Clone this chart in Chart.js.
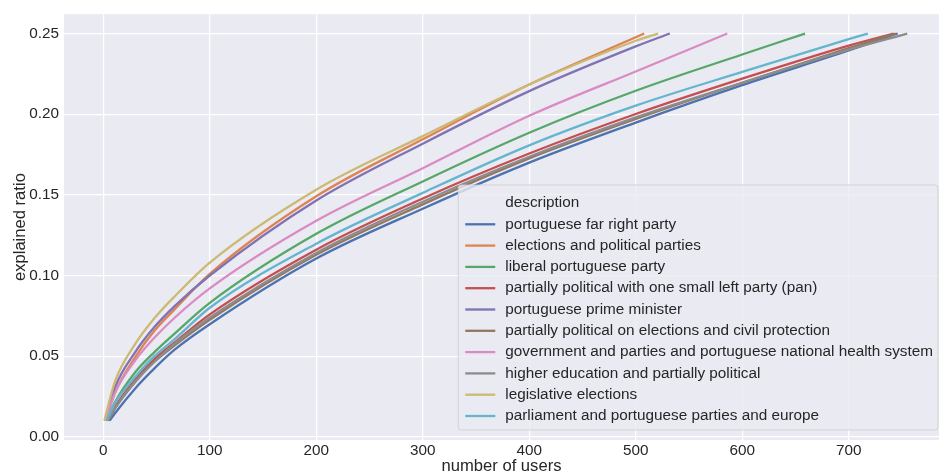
<!DOCTYPE html>
<html>
<head>
<meta charset="utf-8">
<script src="https://cdn.jsdelivr.net/npm/chart.js@4.4.1/dist/chart.umd.min.js"></script>
<style>
  html, body { margin: 0; padding: 0; background: #fff; }
  #wrap { width: 939px; height: 476px; }
</style>
</head>
<body>
<div id="wrap"><canvas id="chart"></canvas></div>
<script>
// values (number of users -> explained ratio)
const labels = [
    'portuguese far right party',
    'elections and political parties',
    'liberal portuguese party',
    'partially political with one small left party (pan)',
    'portuguese prime minister',
    'partially political on elections and civil protection',
    'government and parties and portuguese national health system',
    'higher education and partially political',
    'legislative elections',
    'parliament and portuguese parties and europe'
];
const colors = ['#4C72B0', '#DD8452', '#55A868', '#C44E52', '#8172B3',
                '#937860', '#DA8BC3', '#8C8C8C', '#CCB974', '#64B5CD'];

const farRightX = [6, 11, 30, 48, 67, 100, 200, 300, 400, 500, 600, 700, 746];
const farRightY = [0.01, 0.0146, 0.030, 0.0424, 0.054, 0.0698, 0.1105, 0.1414, 0.170, 0.1948, 0.218, 0.2395, 0.25];

const electionsX = [2, 11, 30, 48, 67, 100, 200, 300, 400, 508];
const electionsY = [0.01, 0.0273, 0.0494, 0.0657, 0.079, 0.101, 0.1491, 0.1844, 0.2184, 0.25];

const liberalX = [3, 11, 30, 48, 67, 100, 200, 300, 400, 500, 600, 659];
const liberalY = [0.01, 0.0215, 0.040, 0.0525, 0.064, 0.083, 0.1258, 0.1583, 0.1885, 0.2145, 0.237, 0.25];

const panX = [4, 11, 30, 48, 67, 100, 200, 300, 400, 500, 600, 700, 742];
const panY = [0.01, 0.0185, 0.0355, 0.0481, 0.0585, 0.0759, 0.116, 0.1477, 0.1756, 0.2001, 0.222, 0.2425, 0.25];

const primeMinisterX = [2, 11, 30, 48, 67, 100, 200, 300, 400, 500, 532];
const primeMinisterY = [0.01, 0.0306, 0.0525, 0.068, 0.081, 0.100, 0.1465, 0.1817, 0.2143, 0.242, 0.25];

const civilProtX = [5, 11, 30, 48, 67, 100, 200, 300, 400, 500, 600, 700, 744];
const civilProtY = [0.01, 0.0175, 0.034, 0.0465, 0.0567, 0.0726, 0.1128, 0.1441, 0.1726, 0.197, 0.2195, 0.241, 0.25];

const healthX = [2, 11, 30, 48, 67, 100, 200, 300, 400, 500, 586];
const healthY = [0.01, 0.0273, 0.0474, 0.0614, 0.0738, 0.092, 0.1339, 0.1665, 0.199, 0.2265, 0.25];

const higherEdX = [4, 11, 30, 48, 67, 100, 200, 300, 400, 500, 600, 700, 755];
const higherEdY = [0.01, 0.0177, 0.0342, 0.0465, 0.0577, 0.0739, 0.114, 0.1457, 0.1736, 0.198, 0.2195, 0.240, 0.25];

const legislativeX = [1, 11, 30, 48, 67, 100, 200, 300, 400, 500, 521];
const legislativeY = [0.01, 0.0344, 0.0576, 0.0735, 0.087, 0.108, 0.1532, 0.1864, 0.2184, 0.2455, 0.25];

const europeX = [3, 11, 30, 48, 67, 100, 200, 300, 400, 500, 600, 700, 718];
const europeY = [0.01, 0.021, 0.0372, 0.050, 0.0605, 0.080, 0.1197, 0.1512, 0.1807, 0.2053, 0.2262, 0.2465, 0.25];

const xTicks = [0, 100, 200, 300, 400, 500, 600, 700];
const yTicks = [0, 0.05, 0.10, 0.15, 0.20, 0.25];

const seriesX = [farRightX, electionsX, liberalX, panX, primeMinisterX,
                 civilProtX, healthX, higherEdX, legislativeX, europeX];
const seriesY = [farRightY, electionsY, liberalY, panY, primeMinisterY,
                 civilProtY, healthY, higherEdY, legislativeY, europeY];

const FONT = "'Liberation Sans', Arial, sans-serif";
const TXT = '#262626';
const LW = 2.3;
const FS = 15.3;

Chart.defaults.font.family = FONT;
Chart.defaults.color = TXT;

const datasets = labels.map((lab, i) => ({
    label: lab,
    data: seriesX[i].map((x, k) => ({x: x, y: seriesY[i][k]})),
    borderColor: colors[i],
    backgroundColor: colors[i],
    borderWidth: LW,
    pointRadius: 0,
    fill: false,
    cubicInterpolationMode: 'monotone',
    order: labels.length - i   // later series on top, like matplotlib
}));

// axes face colour
const facePlugin = {
    id: 'face',
    beforeDraw(chart) {
        const a = chart.chartArea;
        const ctx = chart.ctx;
        ctx.save();
        ctx.fillStyle = '#EAEAF2';
        ctx.fillRect(a.left, a.top, a.right - a.left, a.bottom - a.top);
        ctx.restore();
    }
};

// matplotlib-like legend box, bottom right inside the axes
const legendPlugin = {
    id: 'mplLegend',
    afterDraw(chart) {
        const ctx = chart.ctx;
        const a = chart.chartArea;
        ctx.save();
        ctx.font = FS + 'px ' + FONT;
        let maxW = ctx.measureText('description').width;
        labels.forEach(l => { maxW = Math.max(maxW, ctx.measureText(l).width); });
        const rowH = 21.3;
        const boxW = 7 + 30 + 10 + maxW + 5;
        const boxH = 18 + rowH * labels.length + 14;
        const right = a.right - 1;
        const bottom = a.bottom - 10;
        const left = right - boxW;
        const top = bottom - boxH;

        ctx.beginPath();
        ctx.roundRect(left, top, boxW, boxH, 3);
        ctx.fillStyle = 'rgba(234,234,242,0.8)';
        ctx.fill();
        ctx.strokeStyle = 'rgba(204,204,204,0.8)';
        ctx.lineWidth = 1;
        ctx.stroke();

        ctx.fillStyle = TXT;
        ctx.textBaseline = 'middle';
        ctx.textAlign = 'left';
        const tx = left + 47;
        ctx.fillText('description', tx, top + 18);
        labels.forEach((l, i) => {
            const y = top + 18 + rowH * (i + 1);
            ctx.beginPath();
            ctx.moveTo(left + 7, y);
            ctx.lineTo(left + 37, y);
            ctx.strokeStyle = colors[i];
            ctx.lineWidth = LW;
            ctx.stroke();
            ctx.fillStyle = TXT;
            ctx.fillText(l, tx, y);
        });
        ctx.restore();
    }
};

new Chart(document.getElementById('chart'), {
    type: 'line',
    data: { datasets: datasets },
    plugins: [facePlugin, legendPlugin],
    options: {
        responsive: true,
        maintainAspectRatio: false,
        animation: false,
        devicePixelRatio: 1,
        layout: { padding: { top: 7, right: 0, left: 0, bottom: 0 } },
        plugins: {
            legend: { display: false },
            tooltip: { enabled: false }
        },
        scales: {
            x: {
                type: 'linear',
                min: -36.9,
                max: 784.8,
                afterFit: s => { s.height = 36; },
                afterBuildTicks: s => { s.ticks = xTicks.map(v => ({value: v})); },
                ticks: { font: { size: FS }, color: TXT, padding: 2, maxRotation: 0 },
                grid: { color: '#ffffff', lineWidth: 1.25, drawTicks: false },
                border: { display: false },
                title: { display: true, text: 'number of users', color: TXT,
                         font: { size: 16.6 }, padding: { top: 0, bottom: 0 } }
            },
            y: {
                min: -0.002,
                max: 0.262,
                afterFit: s => { s.width = 64; },
                afterBuildTicks: s => { s.ticks = yTicks.map(v => ({value: v})); },
                ticks: { font: { size: FS }, color: TXT, padding: 5,
                         callback: v => v.toFixed(2) },
                grid: { color: '#ffffff', lineWidth: 1.25, drawTicks: false },
                border: { display: false },
                title: { display: true, text: 'explained ratio', color: TXT,
                         font: { size: 16.6 }, padding: { top: 10, bottom: 0 } }
            }
        }
    }
});
</script>
</body>
</html>
